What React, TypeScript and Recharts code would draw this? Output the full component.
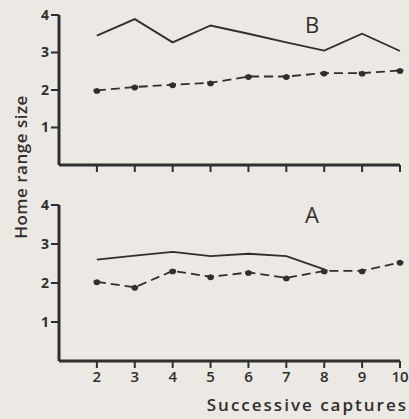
import React from "react";
import { LineChart, Line, XAxis, YAxis } from "recharts";

const captures = [2, 3, 4, 5, 6, 7, 8, 9, 10];
const yTicks = [1, 2, 3, 4];

// panel B (top)
const bSolid = [3.45, 3.89, 3.27, 3.72, 3.5, 3.27, 3.05, 3.5, 3.04];
const bDashed = [1.99, 2.08, 2.14, 2.19, 2.36, 2.36, 2.45, 2.45, 2.52];

// panel A (bottom)
const aSolid = [2.6, 2.7, 2.8, 2.69, 2.75, 2.69, 2.35, null, null];
const aDashed = [2.03, 1.89, 2.31, 2.16, 2.27, 2.13, 2.31, 2.31, 2.53];

const INK = "#2f2f2f";
const BG = "#ece8e3";
const FONT = "'Open Sans', sans-serif";

const dataB = captures.map((c, i) => ({ c, solid: bSolid[i], dashed: bDashed[i] }));
const dataA = captures.map((c, i) => ({ c, solid: aSolid[i], dashed: aDashed[i] }));

const axisLine = { stroke: INK, strokeWidth: 3 };
const tickLine = { stroke: INK, strokeWidth: 2 };

const Panel = ({
  data,
  letter,
  height,
  xHeight,
  showLabels,
}: {
  data: any[];
  letter: string;
  height: number;
  xHeight: number;
  showLabels: boolean;
}) => (
  <LineChart
    width={409}
    height={height}
    data={data}
    margin={{ top: 15, right: 9, left: 19, bottom: 0 }}
  >
    <XAxis
      dataKey="c"
      type="number"
      domain={[1, 10]}
      ticks={captures}
      height={xHeight}
      axisLine={axisLine}
      tickLine={tickLine}
      tickSize={7}
      tickMargin={3}
      tickFormatter={(v) => (showLabels ? String(v) : "")}
      tick={{ fill: INK, fontSize: 15, fontFamily: FONT, fontWeight: 600 }}
      label={
        showLabels
          ? {
              value: "Successive captures",
              position: "insideBottomRight",
              offset: 0,
              dx: 8,
              dy: -8,
              fill: INK,
              fontSize: 17,
              fontFamily: FONT,
              fontWeight: 600,
              letterSpacing: 2,
            }
          : undefined
      }
    />
    <YAxis
      type="number"
      domain={[0, 4]}
      ticks={yTicks}
      width={40}
      axisLine={axisLine}
      tickLine={tickLine}
      tickSize={8}
      tickMargin={2}
      tick={{ fill: INK, fontSize: 14, fontFamily: FONT, fontWeight: 700 }}
    />
    <Line
      dataKey="solid"
      stroke={INK}
      strokeWidth={1.8}
      dot={false}
      activeDot={false}
      isAnimationActive={false}
    />
    <Line
      dataKey="dashed"
      stroke={INK}
      strokeWidth={1.8}
      strokeDasharray="9 5"
      dot={{ r: 2.5, fill: INK, stroke: INK }}
      activeDot={false}
      isAnimationActive={false}
    />
    <text
      x={312}
      y={33}
      textAnchor="middle"
      fill={INK}
      fontSize={22}
      fontFamily={FONT}
    >
      {letter}
    </text>
  </LineChart>
);

export default function App() {
  return (
    <div
      style={{
        position: "absolute",
        left: 0,
        top: 0,
        width: 409,
        height: 419,
        background: BG,
        overflow: "hidden",
      }}
    >
      <div style={{ position: "absolute", left: 0, top: 0 }}>
        <Panel data={dataB} letter="B" height={185} xHeight={20} showLabels={false} />
      </div>
      <div style={{ position: "absolute", left: 0, top: 190 }}>
        <Panel data={dataA} letter="A" height={229} xHeight={58} showLabels={true} />
      </div>
      <div
        style={{
          position: "absolute",
          left: 20,
          top: 167,
          transform: "translate(-50%, -50%) rotate(-90deg)",
          whiteSpace: "nowrap",
          color: INK,
          fontFamily: FONT,
          fontSize: 17,
          fontWeight: 600,
          letterSpacing: 0.5,
        }}
      >
        Home range size
      </div>
    </div>
  );
}
